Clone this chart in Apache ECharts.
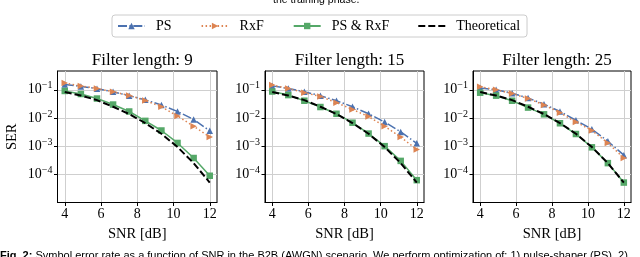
<!DOCTYPE html>
<html><head><meta charset="utf-8">
<script src="https://cdn.jsdelivr.net/npm/echarts@6/dist/echarts.min.js"></script>
<style>html,body{margin:0;padding:0;background:#fff}#c{width:640px;height:257px}</style>
</head><body><div id="c"></div><script>
const snr = [4, 4.889, 5.778, 6.667, 7.556, 8.444, 9.333, 10.222, 11.111, 12];
const titles = ['Filter length: 9', 'Filter length: 15', 'Filter length: 25'];
const seriesNames = ['PS', 'RxF', 'PS & RxF', 'Theoretical'];
const yTickValues = [1e-4, 1e-3, 1e-2, 1e-1];
const xTickValues = [4, 6, 8, 10, 12];

const theoretical = [0.083, 0.063, 0.043, 0.025, 0.0138, 0.0066, 0.00275, 0.00093, 0.00025, 0.000051];

const ps9   = [0.155, 0.132, 0.110, 0.085, 0.062, 0.044, 0.029, 0.017, 0.0089, 0.0035];
const rxf9  = [0.174, 0.138, 0.112, 0.085, 0.063, 0.042, 0.025, 0.0117, 0.0051, 0.0021];
const both9 = [0.091, 0.071, 0.049, 0.030, 0.017, 0.0079, 0.0036, 0.0013, 0.00038, 0.000089];

const ps15   = [0.138, 0.112, 0.085, 0.062, 0.041, 0.025, 0.0141, 0.0072, 0.0032, 0.00126];
const rxf15  = [0.148, 0.112, 0.079, 0.058, 0.035, 0.020, 0.0112, 0.0051, 0.0021, 0.00076];
const both15 = [0.087, 0.065, 0.041, 0.0245, 0.0141, 0.0068, 0.0028, 0.0010, 0.0003, 0.000062];

const ps25   = [0.117, 0.100, 0.076, 0.051, 0.031, 0.017, 0.0083, 0.0040, 0.0015, 0.00048];
const rxf25  = [0.129, 0.100, 0.074, 0.049, 0.029, 0.0155, 0.0072, 0.0036, 0.0013, 0.00038];
const both25 = [0.079, 0.062, 0.041, 0.0234, 0.0135, 0.0065, 0.0027, 0.00091, 0.00025, 0.000051];

const panels = [
  [ps9, rxf9, both9, theoretical],
  [ps15, rxf15, both15, theoretical],
  [ps25, rxf25, both25, theoretical]
];

const FONT = 'Liberation Serif';
const grids = [
  {left: 57.5, width: 159.5},
  {left: 265, width: 159},
  {left: 473, width: 158}
];
const colors = ['#4c72b0', '#dd8452', '#55a868', '#000000'];

const grid = [], xAxis = [], yAxis = [], series = [], titleArr = [];
grids.forEach((g, i) => {
  grid.push({left: g.left, width: g.width, top: 71, height: 131.5, show: true,
    borderColor: '#000', borderWidth: 1, backgroundColor: 'transparent'});
  titleArr.push({text: titles[i], left: g.left + g.width / 2, top: 47, textAlign: 'center',
    textStyle: {fontFamily: FONT, fontSize: 17, fontWeight: 'normal', color: '#000'}});
  xAxis.push({type: 'value', gridIndex: i, min: 3.6, max: 12.4,
    name: 'SNR [dB]', nameLocation: 'middle', nameGap: 24,
    nameTextStyle: {fontFamily: FONT, fontSize: 14.5, color: '#000'},
    axisLine: {show: true, onZero: false, lineStyle: {color: '#000', width: 1}},
    axisTick: {show: true, length: 3.5, customValues: xTickValues, lineStyle: {color: '#000'}},
    axisLabel: {customValues: xTickValues, fontFamily: FONT, fontSize: 14, color: '#000', margin: 5},
    splitLine: {show: true, lineStyle: {color: '#cfcfcf', width: 1}}
  });
  yAxis.push({type: 'log', gridIndex: i, logBase: 10, min: 1e-5, max: 0.4656,
    name: i === 0 ? 'SER' : '', nameLocation: 'middle', nameGap: 38, nameRotate: 90,
    nameTextStyle: {fontFamily: FONT, fontSize: 14.5, color: '#000'},
    axisLine: {show: true, onZero: false, lineStyle: {color: '#000', width: 1}},
    axisTick: {show: true, length: 3.5, customValues: yTickValues, lineStyle: {color: '#000'}},
    axisLabel: {customValues: yTickValues, fontFamily: FONT, fontSize: 14, color: '#000', margin: 5,
      formatter: v => {
        const e = Math.round(Math.log10(v));
        return '10{s|' + String(e).replace('-', '−') + '}';
      },
      rich: {s: {fontFamily: FONT, fontSize: 10, verticalAlign: 'top', color: '#000', padding: [0, 0, 8, 0]}}
    },
    splitLine: {show: true, lineStyle: {color: '#cfcfcf', width: 1}}
  });
  const data = panels[i];
  const styles = [
    {symbol: 'triangle', symbolSize: 6.5, symbolRotate: 0, type: [9, 2.4, 1.5, 2.4]},
    {symbol: 'triangle', symbolSize: 6.5, symbolRotate: -90, type: [1.5, 2.5]},
    {symbol: 'rect', symbolSize: 6.5, symbolRotate: 0, type: 'solid'},
    {symbol: 'none', symbolSize: 0, symbolRotate: 0, type: [7, 3]}
  ];
  seriesNames.forEach((nm, k) => {
    series.push({
      name: nm, type: 'line', xAxisIndex: i, yAxisIndex: i,
      data: snr.map((x, j) => [x, data[k][j]]),
      symbol: styles[k].symbol, symbolSize: styles[k].symbolSize, symbolRotate: styles[k].symbolRotate,
      showSymbol: styles[k].symbol !== 'none',
      lineStyle: {color: colors[k], width: k === 3 ? 2 : 1.5, type: styles[k].type},
      itemStyle: {color: colors[k], borderWidth: 0},
      emphasis: {disabled: true}, animation: false, z: 2 + k
    });
  });
});

const chart = echarts.init(document.getElementById('c'), null, {renderer: 'canvas'});
chart.setOption({
  animation: false,
  backgroundColor: '#fff',
  title: titleArr,
  legend: {
    data: ['PS', 'RxF', 'PS & RxF', {name: 'Theoretical', icon: 'path://M0,0 L7,0 L7,2 L0,2 Z M10,0 L17,0 L17,2 L10,2 Z M20,0 L27,0 L27,2 L20,2 Z', itemStyle: {color: '#000'}}],
    left: 112, top: 15, itemWidth: 27, itemHeight: 8, itemGap: 29,
    padding: [4, 7, 4, 5], borderColor: '#cccccc', borderWidth: 1, borderRadius: 3,
    textStyle: {fontFamily: FONT, fontSize: 14, color: '#000', padding: [0, 0, 0, 6]}
  },
  grid, xAxis, yAxis, series,
  graphic: [
    {type: 'text', left: 273, top: -5, style: {text: 'the training phase.', fontFamily: 'Liberation Sans', fontSize: 10.5, fill: '#000'}},
    {type: 'text', left: 0, top: 250, style: {rich: {b: {fontWeight: 'bold', fontFamily: 'Liberation Sans', fontSize: 11}}, text: '{b|Fig. 2:} Symbol error rate as a function of SNR in the B2B (AWGN) scenario. We perform optimization of: 1) pulse-shaper (PS), 2)', fontFamily: 'Liberation Sans', fontSize: 11, fill: '#000'}}
  ]
});
</script></body></html>
